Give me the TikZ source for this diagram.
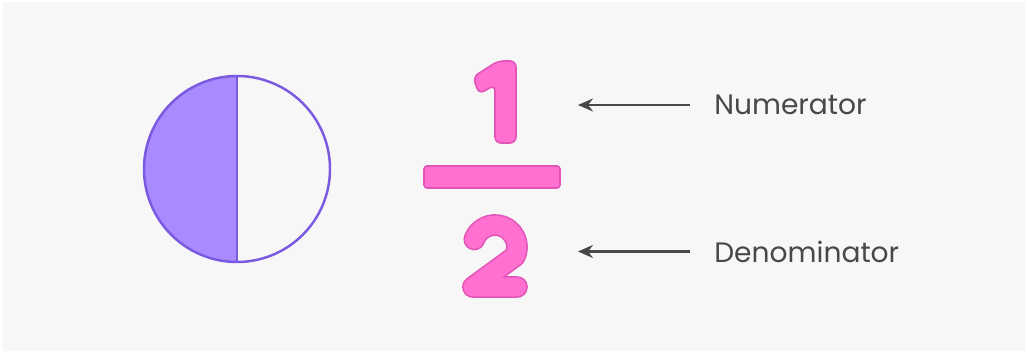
\documentclass[tikz,border=0pt]{standalone}
\usepackage{fontspec}
\setmainfont{Poppins}
\usetikzlibrary{arrows.meta}
\definecolor{paper}{RGB}{247,247,247}
\definecolor{lilac}{RGB}{170,138,255}
\definecolor{violet}{RGB}{122,90,224}
\definecolor{rose}{RGB}{255,112,208}
\definecolor{roseline}{RGB}{226,84,184}
\definecolor{ink}{RGB}{72,72,72}
\tikzset{
  >={Stealth[length=3mm,width=2.6mm,inset=1mm]},
  pointer/.style={->,draw=ink,line width=1.5pt,shorten <=4.8mm},
  term/.style={anchor=west,inner sep=0pt,text=ink,font=\fontsize{16}{18}\selectfont},
  numeral/.style={fill=rose,draw=roseline,line width=0.9pt,rounded corners=1.2mm},
  stroke digit/.style={draw=roseline,double=rose,double distance=10.6pt,line width=0.9pt,
    line cap=round,line join=round},
}
\begin{document}
\begin{tikzpicture}[x=0.02cm,y=-0.02cm]
  % canvas
  \fill[white] (0,0) rectangle (1028,354);
  \fill[paper] (3,2) rectangle (1025,351);
  % half-shaded circle
  \fill[lilac] (237,76) arc (270:90:93) -- cycle;
  \draw[violet,line width=1.4pt] (237,169) circle (93);
  \draw[violet,line width=1.4pt] (237,76) -- (237,263);
  % the fraction
  \path[numeral] (495,143) -- (516,143) -- (516,61) -- (498,61) -- (473,77)
    -- (479,94) -- (495,85) -- cycle;
  \path[numeral,rounded corners=0.6mm] (424,166) rectangle (560,188);
  \draw[stroke digit] (474.3,239.5) arc (200:385:22) -- (473,287) -- (517,287);
  % labels
  \node[term] (numlbl) at (714,105) {Numerator};
  \node[term] (denlbl) at (714,251.5) {Denominator};
  \coordinate (numtip) at (578,105);
  \coordinate (dentip) at (578,251.5);
  \draw[pointer] (numlbl.west) -- (numtip);
  \draw[pointer] (denlbl.west) -- (dentip);
\end{tikzpicture}
\end{document}
